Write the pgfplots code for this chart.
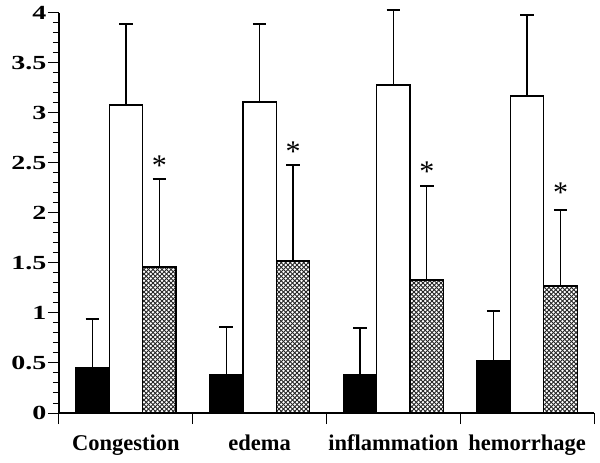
\documentclass[border=0pt]{standalone}
\usepackage{fontspec}
\setmainfont{Liberation Serif}
\usepackage{pgfplots}
\pgfplotsset{compat=1.18}
\usetikzlibrary{patterns}
\pgfdeclarepatternformonly{xhatch}{\pgfqpoint{-1bp}{-1bp}}{\pgfqpoint{5.5bp}{5.5bp}}{\pgfqpoint{4.5bp}{4.5bp}}{%
  \pgfsetlinewidth{0.75bp}%
  \pgfpathmoveto{\pgfqpoint{0bp}{0bp}}\pgfpathlineto{\pgfqpoint{4.5bp}{4.5bp}}%
  \pgfpathmoveto{\pgfqpoint{0bp}{4.5bp}}\pgfpathlineto{\pgfqpoint{4.5bp}{0bp}}%
  \pgfusepath{stroke}}
\begin{document}
\begin{tikzpicture}
\begin{axis}[
  scale only axis, width=535bp, height=400bp,
  xmin=-0.5, xmax=3.5, ymin=0, ymax=4,
  clip=false,
  axis x line*=bottom, axis y line*=left,
  axis line style={line width=1.3bp},
  ytick={0,0.5,...,4}, minor y tick num=4,
  tick align=outside,
  major tick length=11bp, minor tick length=6bp,
  tick style={line width=1bp, black},
  xtick={-0.5,0.5,1.5,2.5,3.5}, xticklabels={},
  extra x ticks={0,1,2,3},
  extra x tick labels={Congestion,edema,inflammation,hemorrhage},
  extra x tick style={major tick length=0pt, tick style={draw=none},
    xticklabel style={font=\fontsize{22.5bp}{26bp}\selectfont\bfseries, yshift=-18bp}},
  yticklabel style={font=\fontsize{20bp}{24bp}\selectfont\bfseries, xscale=1.4, inner sep=1bp},
  /pgf/number format/assume math mode=true,
  ybar=0pt, bar width=0.25,
  error bars/y dir=plus, error bars/y explicit,
  error bars/error mark=|,
  error bars/error mark options={line width=1.3bp, mark size=6.8bp, black},
  error bars/error bar style={line width=1.3bp, black},
]
\addplot[fill=black, draw=black, line width=1.3bp, bar shift=-0.25] coordinates {
  (0,0.45) +- (0,0.49)
  (1,0.38) +- (0,0.48)
  (2,0.38) +- (0,0.47)
  (3,0.52) +- (0,0.50)
};
\addplot[fill=white, draw=black, line width=1.3bp, bar shift=0] coordinates {
  (0,3.08) +- (0,0.81)
  (1,3.11) +- (0,0.78)
  (2,3.28) +- (0,0.75)
  (3,3.17) +- (0,0.81)
};
\addplot[pattern=xhatch, pattern color=black!85, draw=black, line width=1.3bp, bar shift=0.25] coordinates {
  (0,1.46) +- (0,0.88)
  (1,1.52) +- (0,0.96)
  (2,1.33) +- (0,0.94)
  (3,1.27) +- (0,0.76)
};
\addplot[draw=none, mark=none, forget plot, bar shift=0, bar width=0,
  nodes near coords={*}, point meta=explicit symbolic,
  every node near coord/.style={anchor=base, inner sep=0pt, font=\fontsize{30bp}{32bp}\selectfont, black}]
  coordinates {(0.25,2.38) [*] (1.25,2.52) [*] (2.25,2.32) [*] (3.25,2.11) [*]};
\end{axis}
\path (current axis.south west) ++(-59bp,-50bp) rectangle ++(600bp,463bp);
\end{tikzpicture}
\end{document}
